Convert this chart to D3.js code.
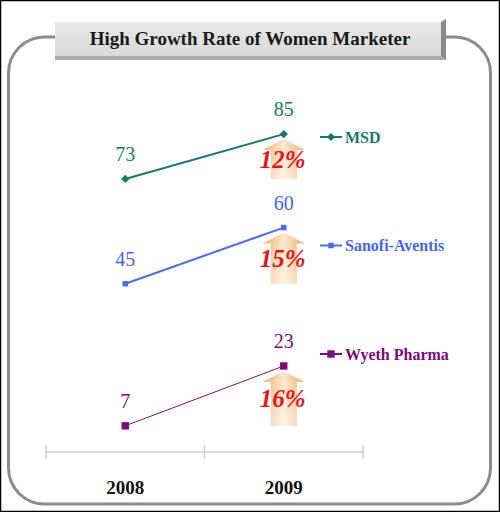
<!DOCTYPE html>
<html>
<head>
<meta charset="utf-8">
<script src="https://cdn.jsdelivr.net/npm/d3@7"></script>
<style>
body { margin: 0; background: #fff; }
text { font-family: "Liberation Serif", "DejaVu Serif", serif; }
</style>
</head>
<body>
<div class="container"></div>
<script>
const WIDTH = 500;
const HEIGHT = 512;

// data
var title = "High Growth Rate of Women Marketer";
var years = ["2008", "2009"];
var companies = ["MSD", "Sanofi-Aventis", "Wyeth Pharma"];
var msdValues = [73, 85];
var sanofiValues = [45, 60];
var wyethValues = [7, 23];
var growthLabels = ["12%", "15%", "16%"];

// look of each series (rotate 45 turns the square into a diamond)
var styles = [
    { color: "#16796c", text: "#16796c", rotate: 45, size: 34, width: 2 },
    { color: "#4a6cee", text: "#4466e6", rotate: 0, size: 30, width: 2 },
    { color: "#7d0a7d", text: "#7a0a7a", rotate: 0, size: 55, width: 1 }
];

var series = [msdValues, sanofiValues, wyethValues].map(function (v, i) {
    return { name: companies[i], values: v, growth: growthLabels[i], style: styles[i] };
});

var translate = function (x, y) {
    return "translate(" + x + "," + y + ")";
};

var x = d3.scaleBand().domain(years).range([46, 363]);
var y = d3.scaleLinear().domain([0, 100]).range([452, 78]);
var cx = function (yr) { return x(yr) + x.bandwidth() / 2; };

var marker = function (s) {
    return d3.symbol().type(d3.symbolSquare).size(s.style.size)();
};

function drawFrame(svg) {
    svg.append("rect")
        .attr("x", 0.5).attr("y", 0.5)
        .attr("width", WIDTH - 1).attr("height", HEIGHT - 1)
        .attr("fill", "#fff").attr("stroke", "#000").attr("stroke-width", 1.5);

    svg.append("rect")
        .attr("x", 8.5).attr("y", 37)
        .attr("width", 482).attr("height", 467)
        .attr("rx", 36)
        .attr("fill", "none").attr("stroke", "#8c8c8c").attr("stroke-width", 3);

    // bevelled title plate
    var defs = svg.append("defs");
    var tg = defs.append("linearGradient").attr("id", "plate")
        .attr("x1", 0).attr("y1", 0).attr("x2", 0).attr("y2", 1);
    tg.append("stop").attr("offset", "0%").attr("stop-color", "#e8e8e8");
    tg.append("stop").attr("offset", "100%").attr("stop-color", "#d9d9d9");

    var plate = svg.append("g");
    plate.append("polygon")
        .attr("points", "55,56 441,56 446,60 55,60")
        .attr("fill", "#a9a9a9");
    plate.append("polygon")
        .attr("points", "441,22 446,19 446,60 441,56")
        .attr("fill", "#8a8a8a");
    plate.append("rect")
        .attr("x", 55).attr("y", 22).attr("width", 386).attr("height", 34)
        .attr("fill", "url(#plate)");
    plate.append("text")
        .attr("x", 250).attr("y", 45)
        .attr("text-anchor", "middle")
        .attr("font-size", 19).attr("font-weight", "bold")
        .attr("fill", "#1a1a1a")
        .text(title);

    var ag = defs.append("linearGradient").attr("id", "arrowFill")
        .attr("x1", 0).attr("y1", 0).attr("x2", 1).attr("y2", 0);
    ag.append("stop").attr("offset", "0%").attr("stop-color", "#eba561");
    ag.append("stop").attr("offset", "50%").attr("stop-color", "#fce8cc");
    ag.append("stop").attr("offset", "100%").attr("stop-color", "#e9a25e");
    var fade = defs.append("linearGradient").attr("id", "arrowFade")
        .attr("x1", 0).attr("y1", 0).attr("x2", 0).attr("y2", 1);
    fade.append("stop").attr("offset", "0%").attr("stop-color", "#fff").attr("stop-opacity", 0);
    fade.append("stop").attr("offset", "100%").attr("stop-color", "#fff").attr("stop-opacity", 0.5);
}

function drawAxis(svg) {
    var axis = svg.append("g").attr("transform", translate(0, y(0)));
    var edges = years.map(function (d) { return x(d); }).concat([x.range()[1]]);

    axis.append("line")
        .attr("x1", x.range()[0]).attr("x2", x.range()[1])
        .attr("stroke", "#cfcfcf").attr("stroke-width", 1.5);
    axis.selectAll(".edge").data(edges).enter().append("line")
        .attr("class", "edge")
        .attr("x1", function (d) { return d; }).attr("x2", function (d) { return d; })
        .attr("y1", -7).attr("y2", 7)
        .attr("stroke", "#cfcfcf").attr("stroke-width", 1.5);

    var labels = svg.append("g")
        .attr("transform", translate(0, y(0)))
        .call(d3.axisBottom(x).tickSize(0).tickPadding(29));
    labels.select(".domain").remove();
    labels.selectAll("text")
        .attr("font-family", "Liberation Serif, serif")
        .attr("font-size", 19).attr("font-weight", "bold")
        .attr("fill", "#111");
}

function arrowPath(xc, top, bottom) {
    var sw = 13, hw = 21, hh = 11;
    return d3.line()([
        [xc - sw, bottom], [xc - sw, top + hh], [xc - hw, top + hh], [xc, top],
        [xc + hw, top + hh], [xc + sw, top + hh], [xc + sw, bottom]
    ]) + "Z";
}

function drawSeries(svg) {
    var g = svg.selectAll(".series").data(series).enter().append("g")
        .attr("class", "series");

    // growth arrows behind the lines
    g.each(function (s) {
        var el = d3.select(this);
        var xc = cx(years[1]);
        var top = y(s.values[1]) + 5;
        var bottom = y(s.values[0]);
        el.append("path").attr("d", arrowPath(xc, top, bottom)).attr("fill", "url(#arrowFill)");
        el.append("path").attr("d", arrowPath(xc, top, bottom)).attr("fill", "url(#arrowFade)");
        el.append("text")
            .attr("x", xc - 1).attr("y", (top + bottom) / 2 + 9)
            .attr("text-anchor", "middle")
            .attr("font-size", 25).attr("font-weight", "bold").attr("font-style", "italic")
            .attr("fill", "#e8141a")
            .text(s.growth);
    });

    var line = d3.line()
        .x(function (d, i) { return cx(years[i]); })
        .y(function (d) { return y(d); });

    g.append("path")
        .attr("d", function (s) { return line(s.values); })
        .attr("fill", "none")
        .attr("stroke", function (s) { return s.style.color; })
        .attr("stroke-width", function (s) { return s.style.width; });

    g.each(function (s) {
        var el = d3.select(this);
        s.values.forEach(function (v, i) {
            el.append("path")
                .attr("d", marker(s))
                .attr("transform", translate(cx(years[i]), y(v)) + " rotate(" + s.style.rotate + ")")
                .attr("fill", s.style.color);
            el.append("text")
                .attr("x", cx(years[i])).attr("y", y(v) - 18)
                .attr("text-anchor", "middle")
                .attr("font-size", 20)
                .attr("fill", s.style.text)
                .text(v);
        });
    });
}

function drawLegend(svg) {
    var item = svg.selectAll(".legend").data(series).enter().append("g")
        .attr("class", "legend")
        .attr("transform", function (s, i) { return translate(320, 137 + i * 108.5); });
    item.append("line")
        .attr("x1", 0).attr("x2", 22)
        .attr("stroke", function (s) { return s.style.color; })
        .attr("stroke-width", 2);
    item.append("path")
        .attr("d", marker)
        .attr("transform", function (s) { return translate(11, 0) + " rotate(" + s.style.rotate + ")"; })
        .attr("fill", function (s) { return s.style.color; });
    item.append("text")
        .attr("x", 25).attr("dy", "0.35em")
        .attr("font-size", 16).attr("font-weight", "bold")
        .attr("fill", function (s) { return s.style.text; })
        .text(function (s) { return s.name; });
}

var loadChart = function () {
    var svg = d3.select(".container").append("svg")
        .attr("width", WIDTH)
        .attr("height", HEIGHT);
    drawFrame(svg);
    drawAxis(svg);
    drawSeries(svg);
    drawLegend(svg);
};

window.onload = loadChart;
</script>
</body>
</html>
